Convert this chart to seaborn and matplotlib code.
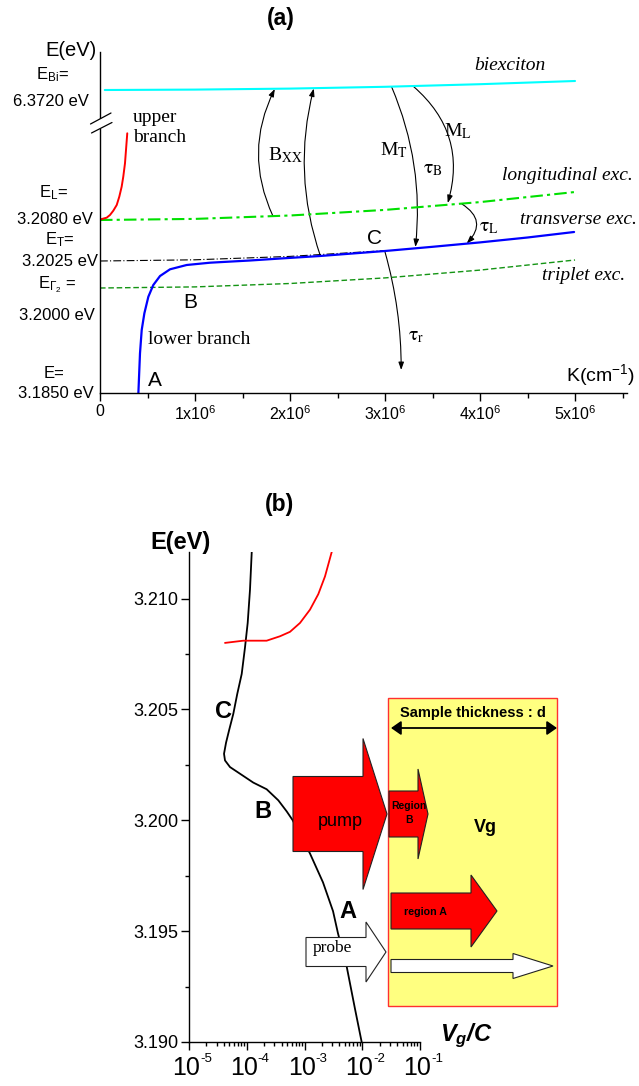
import matplotlib
matplotlib.use('Agg')
import matplotlib.pyplot as plt
import matplotlib.transforms as mtransforms
from matplotlib.patches import FancyArrowPatch, Polygon, Rectangle
from matplotlib.lines import Line2D
from matplotlib.ticker import MultipleLocator, NullFormatter, LogLocator
import seaborn as sns

W, H = 639, 1086

# ---------------- Panel (a) data : K in units of 1e6 cm^-1, energy in schematic units
k_ticks = [0, 1, 2, 3, 4, 5]
k_tick_labels = ['0', r'1x10$^{6}$', r'2x10$^{6}$', r'3x10$^{6}$', r'4x10$^{6}$', r'5x10$^{6}$']

biex_k = [0.05, 1, 2, 3, 4, 5]
biex_E = [303.0, 303.4, 304.4, 306.2, 308.8, 312.0]
long_k = [0, 1, 2, 3, 4, 5]
long_E = [173, 174.1, 177.5, 183.1, 190.9, 201]
trans_k = [0, 1, 2, 3]
trans_E = [132, 133.2, 136.6, 142.4]
trip_k = [0, 1, 2, 3, 4, 5]
trip_E = [105, 106.1, 109.5, 115.1, 122.9, 133]
upper_k = [0, 0.07, 0.105, 0.14, 0.176, 0.203, 0.228, 0.245, 0.263, 0.287]
upper_E = [173.5, 175.3, 178, 182.3, 188, 196.3, 206.3, 216.3, 229.7, 259.7]
lower_k = [0.404, 0.421, 0.439, 0.467, 0.509, 0.561, 0.632, 0.737, 0.912, 1.158, 1.579,
           1.9, 2.316, 3.0, 3.5, 4.0, 4.5, 4.99]
lower_E = [0, 39.7, 63, 79.7, 96.3, 108, 117, 123.7, 128, 130.3, 132.5,
           134.5, 137, 142, 146.2, 150.6, 155.5, 161]

# transitions (start K, start E, end K, end E, curvature)
transitions = {
    'Bxx1': (1.82, 177, 1.84, 304, -0.24),
    'Bxx2': (2.32, 137, 2.25, 304.5, -0.15),
    'MT':   (3.07, 306, 3.32, 146, -0.13),
    'ML':   (3.30, 306.5, 3.66, 190, -0.32),
    'tauL': (3.81, 189, 3.86, 149.5, -0.6),
    'taur': (3.00, 141, 3.17, 23, -0.07),
}

# ---------------- Panel (b) data
vg_black = [1.22e-4, 1.138e-4, 1.038e-4, 9.33e-5, 8.18e-5, 6.85e-5, 5.85e-5, 4.99e-5,
            4.38e-5, 4.04e-5, 4.2e-5, 5.13e-5, 7.64e-5, 1.297e-4, 2.21e-4, 3.52e-4,
            4.92e-4, 6.25e-4, 1.245e-3, 2.09e-3, 3.12e-3, 3.8e-3, 5.38e-3, 7.48e-3, 9.77e-3]
E_black = [3.2121, 3.2104, 3.2089, 3.2078, 3.2066, 3.2057, 3.2048, 3.2041,
           3.2035, 3.2030, 3.2027, 3.2024, 3.2021, 3.2017, 3.2014, 3.2009,
           3.2004, 3.2000, 3.1985, 3.1972, 3.1959, 3.1949, 3.1934, 3.1915, 3.1900]
vg_red = [4.2e-5, 8.7e-5, 2.21e-4, 3.77e-4, 5.61e-4, 8.36e-4, 1.245e-3, 1.734e-3, 2.265e-3, 2.96e-3]
E_red = [3.2080, 3.2081, 3.2081, 3.2083, 3.2085, 3.2089, 3.2095, 3.2102, 3.2110, 3.2121]
yticks_b = [3.190, 3.195, 3.200, 3.205, 3.210]
xticks_b = [1e-5, 1e-4, 1e-3, 1e-2, 1e-1]
xexp_b = ['-5', '-4', '-3', '-2', '-1']

# ---------------- style
sns.set_theme(style='ticks')
plt.rcParams['font.family'] = ['Liberation Sans', 'DejaVu Sans']
plt.rcParams['mathtext.fontset'] = 'custom'
plt.rcParams['mathtext.rm'] = 'Liberation Sans'
plt.rcParams['mathtext.it'] = 'Liberation Sans:italic'
plt.rcParams['mathtext.bf'] = 'Liberation Sans:italic:bold'
plt.rcParams['axes.linewidth'] = 1.0
plt.rcParams['axes.edgecolor'] = 'black'
plt.rcParams['xtick.color'] = 'black'
plt.rcParams['ytick.color'] = 'black'
plt.rcParams['text.color'] = 'black'
plt.rcParams['lines.solid_joinstyle'] = 'round'

fig = plt.figure(figsize=(W / 100, H / 100), dpi=100)
T = mtransforms.Affine2D().scale(1 / W, -1 / H).translate(0, 1) + fig.transFigure


def box(x0, y0, x1, y1):
    return [x0 / W, 1 - y1 / H, (x1 - x0) / W, (y1 - y0) / H]


def ptxt(x, y, s, **kw):
    kw.setdefault('ha', 'center')
    kw.setdefault('va', 'center')
    return fig.text(x / W, 1 - y / H, s, **kw)


SERIF = ['Liberation Serif', 'DejaVu Serif']

# ======================= Panel (a)
axa = fig.add_axes(box(100, 52, 627, 393))
sns.lineplot(x=biex_k, y=biex_E, ax=axa, color='#00FFFF', lw=1.5, sort=False, estimator=None)
sns.lineplot(x=long_k, y=long_E, ax=axa, color='#00E000', lw=1.5, sort=False, estimator=None,
             linestyle=(0, (6, 2, 1.5, 2)))
sns.lineplot(x=trip_k, y=trip_E, ax=axa, color='#149414', lw=1.0, sort=False, estimator=None,
             linestyle=(0, (4, 2)))
sns.lineplot(x=trans_k, y=trans_E, ax=axa, color='black', lw=0.8, sort=False, estimator=None,
             linestyle=(0, (7, 2, 1, 2)))
sns.lineplot(x=upper_k, y=upper_E, ax=axa, color='#FF0000', lw=1.4, sort=False, estimator=None)
sns.lineplot(x=lower_k, y=lower_E, ax=axa, color='#0000FF', lw=1.6, sort=False, estimator=None)

for key, (x0, y0, x1, y1, rad) in transitions.items():
    axa.add_patch(FancyArrowPatch((x0, y0), (x1, y1), connectionstyle=f'arc3,rad={rad}',
                                  arrowstyle='-|>,head_length=0.45,head_width=0.16',
                                  mutation_scale=10, lw=0.8, color='black',
                                  shrinkA=0, shrinkB=0, transform=axa.transData))

axa.set_xlim(0, 5.547)
axa.set_ylim(0, 341)
axa.spines['top'].set_visible(False)
axa.spines['right'].set_visible(False)
axa.set_yticks([])
axa.set_xticks(k_ticks)
axa.set_xticklabels(k_tick_labels, fontsize=11.5)
axa.xaxis.set_minor_locator(MultipleLocator(0.5))
axa.tick_params(axis='x', which='major', length=5.8, width=1, direction='out', pad=2)
axa.tick_params(axis='x', which='minor', length=3.6, width=1, direction='out')
axa.set_xlabel('')
axa.set_ylabel('')

# axis break
fig.add_artist(Rectangle((97.5, 119), 5, 9.5, transform=T, facecolor='white', edgecolor='none', zorder=5))
fig.add_artist(Line2D([90.5, 111], [124, 113], transform=T, color='black', lw=0.9, zorder=6))
fig.add_artist(Line2D([91.5, 112], [133, 122.5], transform=T, color='black', lw=0.9, zorder=6))

ptxt(281, 19, '(a)', fontsize=16.5, fontweight='bold')
ptxt(97, 50, 'E(eV)', ha='right', fontsize=14.5)
for s, x, y in [(r'E$_{\mathrm{Bi}}$=', 52, 75), ('6.3720 eV', 51, 102),
                (r'E$_{\mathrm{L}}$=', 54, 193), ('3.2080 eV', 55, 220),
                (r'E$_{\mathrm{T}}$=', 60, 240), ('3.2025 eV', 60, 261),
                (r'E$_{\Gamma_2}$ =', 57, 285), ('3.2000 eV', 57, 315),
                ('E=', 54, 373), ('3.1850 eV', 56, 393)]:
    ptxt(x, y, s, fontsize=12)

ptxt(133, 117, 'upper', ha='left', fontsize=14, family=SERIF)
ptxt(133, 138, 'branch', ha='left', fontsize=14, family=SERIF)
ptxt(148, 339, 'lower branch', ha='left', fontsize=14, family=SERIF)
ptxt(510, 65, 'biexciton', fontsize=14, family=SERIF, style='italic')
ptxt(633, 175, 'longitudinal exc.', ha='right', fontsize=14, family=SERIF, style='italic')
ptxt(637, 219, 'transverse exc.', ha='right', fontsize=14, family=SERIF, style='italic')
ptxt(625, 275, 'triplet exc.', ha='right', fontsize=14, family=SERIF, style='italic')
ptxt(635, 375, r'K(cm$^{-1}$)', ha='right', fontsize=14)
ptxt(375, 239, 'C', fontsize=15)
ptxt(155, 380, 'A', fontsize=15)
ptxt(190, 303, 'B', fontsize=15)

for s, x, y in [(r'B$_{\mathrm{XX}}$', 285, 155), (r'M$_{\mathrm{T}}$', 394, 150),
                (r'$\mathrm{\tau}_{\mathrm{B}}$', 433, 170), (r'M$_{\mathrm{L}}$', 458, 131),
                (r'$\mathrm{\tau}_{\mathrm{L}}$', 489, 228), (r'$\mathrm{\tau}_{\mathrm{r}}$', 416, 337)]:
    ptxt(x, y, s, fontsize=14, family=SERIF, math_fontfamily='stix')

# ======================= Panel (b)
axb = fig.add_axes(box(189, 552, 420, 1042))
sns.lineplot(x=vg_black, y=E_black, ax=axb, color='black', lw=1.3, sort=False, estimator=None)
sns.lineplot(x=vg_red, y=E_red, ax=axb, color='#FF0000', lw=1.3, sort=False, estimator=None)
axb.set_xscale('log')
axb.set_xlim(1e-5, 1e-1)
axb.set_ylim(3.190, 3.2121)
axb.spines['top'].set_visible(False)
axb.spines['right'].set_visible(False)
axb.set_xlabel('')
axb.set_ylabel('')
axb.set_yticks(yticks_b)
axb.set_yticklabels([f'{v:.3f}' for v in yticks_b], fontsize=13)
axb.yaxis.set_minor_locator(MultipleLocator(0.0025))
axb.set_xticks(xticks_b)
axb.xaxis.set_minor_locator(LogLocator(base=10, subs=range(2, 10)))
axb.xaxis.set_major_formatter(NullFormatter())
axb.xaxis.set_minor_formatter(NullFormatter())
axb.tick_params(axis='both', which='major', length=5.5, width=1, direction='out', pad=2)
axb.tick_params(axis='both', which='minor', length=3.2, width=1, direction='out')

trb = mtransforms.blended_transform_factory(axb.transData, axb.transAxes)
for v, e in zip(xticks_b, xexp_b):
    axb.text(v, 0, '10', ha='right', va='center', fontsize=18,
             transform=trb + mtransforms.ScaledTranslation(0.11, -0.26, fig.dpi_scale_trans))
    axb.text(v, 0, e, ha='left', va='center', fontsize=9.5,
             transform=trb + mtransforms.ScaledTranslation(0.11, -0.17, fig.dpi_scale_trans))

ptxt(280, 505, '(b)', fontsize=16.5, fontweight='bold')
ptxt(181, 543, 'E(eV)', fontsize=17, fontweight='bold')
ptxt(466, 1036, r'$\mathbf{V_g/C}$', fontsize=17)
ptxt(223, 712, 'C', fontsize=17, fontweight='bold')
ptxt(263, 812, 'B', fontsize=17, fontweight='bold')
ptxt(348, 912, 'A', fontsize=17, fontweight='bold')

# schematic of the sample
fig.add_artist(Rectangle((388, 698), 169, 308, transform=T, facecolor='#FFFF80',
                         edgecolor='#FF3030', lw=1.0, zorder=2))


def block_arrow(x0, xb, xt, yc, bh, hh, fc):
    pts = [(x0, yc - bh / 2), (xb, yc - bh / 2), (xb, yc - hh / 2), (xt, yc),
           (xb, yc + hh / 2), (xb, yc + bh / 2), (x0, yc + bh / 2)]
    fig.add_artist(Polygon(pts, closed=True, transform=T, facecolor=fc,
                           edgecolor='#222222', lw=0.8, zorder=3))


block_arrow(293, 363, 387, 814, 75, 151, '#FF0000')   # pump
block_arrow(389, 418, 428, 814, 46, 90, '#FF0000')    # region B
block_arrow(391, 471, 497, 911, 36, 72, '#FF0000')    # region A
block_arrow(306, 366, 386, 952, 29, 60, 'white')      # probe
block_arrow(391, 513, 553, 966, 13, 25, 'white')      # transmitted probe

fig.add_artist(FancyArrowPatch((391, 728), (557, 728), transform=T,
                               arrowstyle='<|-|>,head_length=0.6,head_width=0.42',
                               mutation_scale=10, lw=1.3, color='black',
                               shrinkA=0, shrinkB=0, zorder=4))

ptxt(473, 713, 'Sample thickness : d', fontsize=10.5, fontweight='bold', zorder=5)
ptxt(485, 827, 'Vg', fontsize=13, fontweight='bold', zorder=5)
ptxt(409, 813, 'Region\nB', fontsize=7.5, fontweight='bold', linespacing=1.4, zorder=5)
ptxt(425, 912, 'region A', fontsize=7.7, fontweight='bold', zorder=5)
ptxt(340, 822, 'pump', fontsize=13, zorder=5)
ptxt(332, 948, 'probe', fontsize=12.5, family=SERIF, zorder=5)

fig.savefig('out.png', dpi=100)
